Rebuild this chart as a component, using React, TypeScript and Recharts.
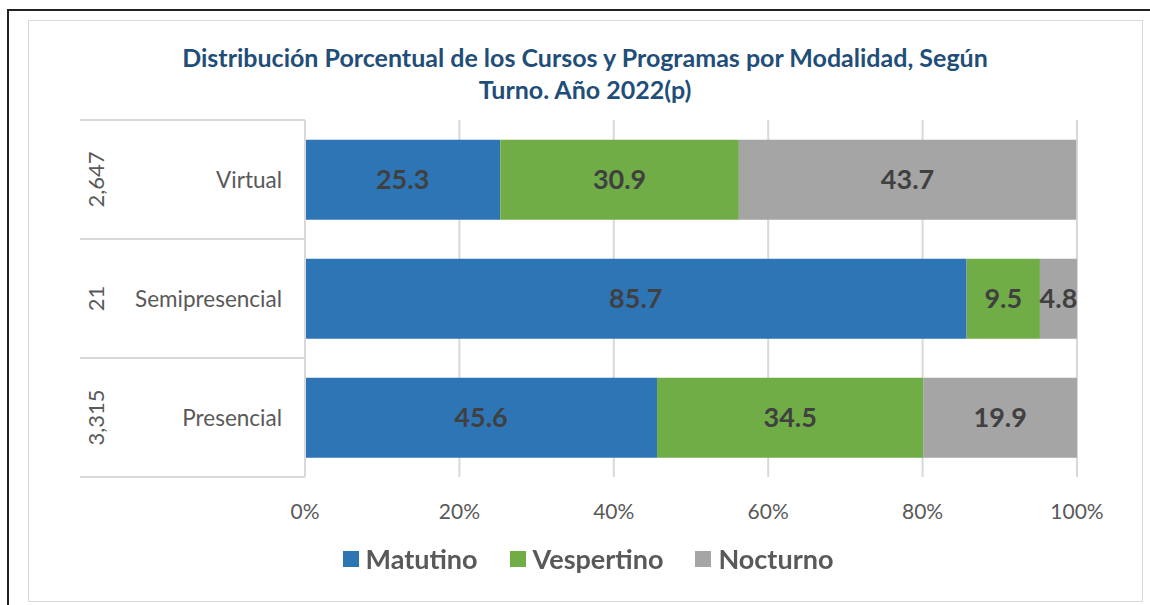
import { Bar, BarChart, CartesianGrid, LabelList, XAxis, YAxis } from "recharts";

const modalidades = ["Virtual", "Semipresencial", "Presencial"];
const totalCursos = [2647, 21, 3315];
const matutino = [25.3, 85.7, 45.6];
const vespertino = [30.9, 9.5, 34.5];
const nocturno = [43.7, 4.8, 19.9];
const pctTicks = [0, 20, 40, 60, 80, 100];

const series = [
  { key: "matutino", name: "Matutino", color: "#2E75B6" },
  { key: "vespertino", name: "Vespertino", color: "#70AD47" },
  { key: "nocturno", name: "Nocturno", color: "#A5A5A5" },
];

const data = modalidades.map((name, i) => ({
  name,
  total: totalCursos[i],
  matutino: matutino[i],
  vespertino: vespertino[i],
  nocturno: nocturno[i],
}));

const FONT = "Lato, 'Open Sans', sans-serif";
const TOP = 120;
const BOTTOM = 477;
const BAND = (BOTTOM - TOP) / modalidades.length;
const LINE = "#D9D9D9";

// two-level category axis: modality name plus rotated course count, boxed by lines
function CategoryTick(props: any) {
  const { y, payload, index } = props;
  const row = data[index];
  return (
    <g>
      <line x1={80} x2={305} y1={y - BAND / 2} y2={y - BAND / 2} stroke={LINE} strokeWidth={2} />
      {index === modalidades.length - 1 && (
        <line x1={80} x2={305} y1={y + BAND / 2} y2={y + BAND / 2} stroke={LINE} strokeWidth={2} />
      )}
      <text x={282} y={y} textAnchor="end" dominantBaseline="central" fill="#595959" fontSize={22.5} fontFamily={FONT}>
        {payload.value}
      </text>
      <text
        x={95}
        y={y}
        transform={`rotate(-90 95 ${y})`}
        textAnchor="middle"
        dominantBaseline="central"
        fill="#595959"
        fontSize={22}
        fontFamily={FONT}
      >
        {row ? row.total.toLocaleString("en-US") : ""}
      </text>
    </g>
  );
}

function PctTick(props: any) {
  const { x, payload } = props;
  return (
    <text x={x} y={510} textAnchor="middle" dominantBaseline="central" fill="#595959" fontSize={21} fontFamily={FONT}>
      {payload.value}%
    </text>
  );
}

export default function App() {
  return (
    <div style={{ position: "fixed", left: 0, top: 0, width: 1150, height: 605, background: "#fff" }}>
      <div style={{ position: "absolute", left: 8, top: 9, width: 1142, height: 2, background: "#222" }} />
      <div style={{ position: "absolute", left: 7, top: 9, width: 2, height: 596, background: "#222" }} />
      <div
        style={{
          position: "absolute",
          left: 28,
          top: 20,
          width: 1113,
          height: 580,
          border: "1px solid #D9D9D9",
        }}
      />
      <div
        style={{
          position: "absolute",
          left: 85,
          top: 41,
          width: 1000,
          textAlign: "center",
          color: "#1F4E79",
          fontFamily: FONT,
          fontWeight: 700,
          fontSize: 25,
          lineHeight: "32px",
        }}
      >
        Distribución Porcentual de los Cursos y Programas por Modalidad, Según
        <br />
        Turno. Año 2022(p)
      </div>
      <div style={{ position: "absolute", left: 0, top: 0 }}>
        <BarChart
          width={1150}
          height={605}
          data={data}
          layout="vertical"
          margin={{ top: TOP, right: 73, bottom: 88, left: 80 }}
          barCategoryGap="16.5%"
        >
          <CartesianGrid horizontal={false} stroke={LINE} strokeWidth={2} />
          <XAxis
            type="number"
            domain={[0, 100]}
            ticks={pctTicks}
            axisLine={false}
            tickLine={false}
            tick={<PctTick />}
            height={40}
            allowDataOverflow
          />
          <YAxis
            type="category"
            dataKey="name"
            width={225}
            axisLine={{ stroke: LINE, strokeWidth: 2 }}
            tickLine={false}
            tick={<CategoryTick />}
          />
          {series.map((s) => (
            <Bar key={s.key} dataKey={s.key} name={s.name} stackId="a" fill={s.color} isAnimationActive={false}>
              <LabelList
                dataKey={s.key}
                position="center"
                fill="#404040"
                fontSize={27}
                fontWeight={700}
                fontFamily={FONT}
                formatter={(v: any) => Number(v).toFixed(1)}
              />
            </Bar>
          ))}
        </BarChart>
      </div>
      <div
        style={{
          position: "absolute",
          left: 0,
          top: 542,
          width: 1176,
          display: "flex",
          justifyContent: "center",
          gap: 32,
          fontFamily: FONT,
          fontWeight: 700,
          fontSize: 27,
          color: "#595959",
        }}
      >
        {series.map((s) => (
          <div key={s.key} style={{ display: "flex", alignItems: "center", gap: 7 }}>
            <span style={{ width: 16, height: 16, background: s.color, display: "inline-block" }} />
            <span>{s.name}</span>
          </div>
        ))}
      </div>
    </div>
  );
}
